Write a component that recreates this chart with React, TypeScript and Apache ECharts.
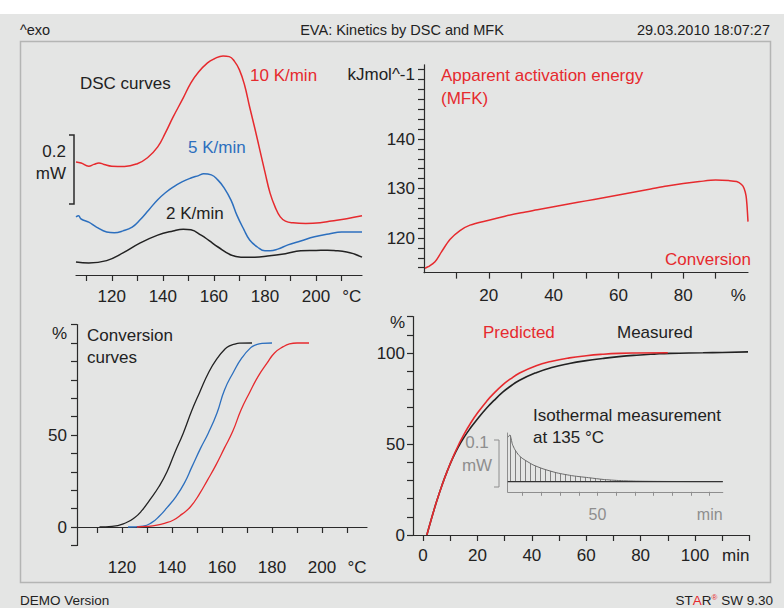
import React, { useEffect, useRef } from 'react';
import * as echarts from 'echarts';

// ---------- DSC curves: temperature (°C) vs heat flow (mW, exo up, curves offset as drawn) ----------
const dsc10K = [[106,0.323],[108,0.320],[111,0.311],[113,0.316],[115,0.320],[117,0.316],[120,0.311],[125,0.310],[130,0.318],[134,0.335],[138,0.366],[141,0.406],[144,0.451],[148,0.506],[151,0.549],[154,0.580],[157.5,0.606],[160,0.617],[163.6,0.626],[166,0.624],[168,0.611],[170,0.586],[172,0.543],[174,0.480],[176,0.420],[178,0.357],[180,0.294],[182,0.234],[184,0.194],[186,0.166],[188,0.154],[191,0.149],[196,0.147],[201.6,0.149],[206,0.154],[212,0.161],[218,0.169]];
const dsc5K = [[106,0.166],[107,0.169],[108,0.160],[111,0.151],[114,0.137],[118,0.123],[121,0.121],[124.4,0.126],[128,0.137],[131,0.157],[134.5,0.186],[138,0.215],[141,0.235],[144,0.251],[147.5,0.266],[151,0.277],[154,0.284],[156,0.289],[159,0.286],[161.6,0.271],[164,0.249],[166.7,0.214],[169,0.171],[171.8,0.129],[174,0.100],[177,0.080],[180,0.069],[182,0.069],[185,0.074],[189,0.086],[194,0.097],[199.4,0.109],[205,0.117],[210,0.123],[218,0.123]];
const dsc2K = [[106,0.037],[111,0.034],[118,0.041],[124.4,0.063],[131,0.091],[138,0.114],[144,0.126],[148,0.131],[151,0.129],[155,0.114],[158,0.099],[161.6,0.080],[166.7,0.057],[170.6,0.051],[176,0.051],[181,0.054],[188,0.061],[194,0.069],[200,0.070],[204.5,0.071],[207,0.070],[212,0.066],[215,0.060],[218,0.051]];
const dscTicks = [110,120,130,140,150,160,170,180,190,200,210];
const dscLabels = [120,140,160,180,200,214];

// ---------- Apparent activation energy (MFK): conversion (%) vs kJ/mol ----------
const eaMFK = [[0.3,113.9],[1.3,114.2],[3.4,115.2],[5.4,117.2],[8,119.7],[11.1,121.5],[14.2,122.6],[20,123.6],[25,124.4],[30,125.1],[35,125.7],[40,126.3],[45,126.9],[50,127.5],[55,128.1],[60,128.7],[65,129.3],[70,129.9],[75,130.5],[80,131.0],[85,131.4],[90,131.7],[94,131.6],[96.5,131.4],[98,130.8],[98.8,130],[99.4,128.5],[99.7,126.5],[100,123.3]];
const eaXTicks = [10,20,30,40,50,60,70,80,90];
const eaXLabels = [20,40,60,80,97];
const eaYTicks = [114,116,118,120,122,124,126,128,130,132,134,136,138,140,142,144,146,148,150,152,154];
const eaYLabels = [120,130,140,153];

// ---------- Conversion curves: temperature (°C) vs conversion (%) ----------
const conv2K = [[111,0],[116,0.3],[121.6,2.3],[125,5],[128,9],[131,14.5],[134.8,22],[138,30],[141,40],[144.5,51],[148,63.6],[151,73],[154.8,84.4],[158,91.5],[161.2,96.7],[163,98.4],[165,99.4],[167,99.9],[172,100]];
const conv5K = [[122.4,0],[128.4,0.5],[132,2.5],[135,6],[138,10.5],[141.6,16.5],[145,24],[148,32.8],[151.5,43],[154.5,51],[158,62],[161,74.5],[164.5,84],[168,92],[171.5,97.5],[173.5,99],[176,99.8],[180,100]];
const conv10K = [[126,0],[130,0.3],[134,1],[137,2],[140.6,3.8],[144,7],[147.4,11],[151,18],[154.2,25.5],[157.5,33.5],[161,43],[164.3,52],[167.6,63.6],[171,73],[174.4,81.7],[178,89],[181,94.6],[184.5,98],[187,99.5],[190,100],[194.8,100]];
const convXTicks = [110,120,130,140,150,160,170,180,190,200,210];
const convXLabels = [120,140,160,180,200,214];
const convYTicks = [-10,0,10,20,30,40,50,60,70,80,90,100,110];
const convYLabels = [0,50,105];

// ---------- Isothermal at 135 °C: time (min) vs conversion (%) ----------
const predicted = [[1.4,0],[3,8.5],[5,18.5],[7,27.5],[9,35.5],[11,42.8],[13.2,50],[15,55.2],[17.3,61],[20,67],[23.4,73.5],[26,77.8],[29.4,82.6],[32,85.6],[35.5,89],[41.6,93],[47,95.3],[53.8,97.3],[60,98.5],[66,99.3],[72,99.8],[78.5,100],[90,100.1]];
const measured = [[1.4,0],[3,8.5],[5,18.5],[7,27.5],[9,35.5],[11,42.5],[13.2,49],[15,53.5],[17.3,58.5],[20,63.8],[23.4,69.8],[26,73.8],[29.4,78.6],[32,81.6],[35.5,85],[41.6,89.2],[47,91.9],[53.8,94.2],[60,95.8],[66,97],[72,98],[78.5,98.8],[85,99.4],[90.7,99.8],[102.9,100.1],[110,100.3],[119.5,100.6]];
const isoXTicks = [0,10,20,30,40,50,60,70,80,90,100,110,120];
const isoXLabels = [0,20,40,60,80,100,115];
const isoYTicks = [0,10,20,30,40,50,60,70,80,90,100,110,120];
const isoYLabels = [0,50,100,117];

// ---------- Inset: isothermal DSC signal, time (min) vs heat flow (mW above baseline) ----------
const insetSignal = [[2.2,0.095],[3.2,0.1],[4.5,0.08],[5.9,0.068],[8,0.056],[10.2,0.0486],[15.5,0.0358],[20.9,0.0272],[28.3,0.0186],[36.9,0.0122],[46,0.0079],[53,0.0045],[62,0.002],[71,0.0008],[85,0.0002],[100,0],[117,0]];
const insetBaseline = [[2,0],[117,0]];
const insetPeak = [[3,0.111]];
const insetTicks = [10,20,30,40,50,60,70,80,90,100,110];
const insetLabels = [50,110];

const FONT = "'Liberation Sans', Arial, Helvetica, sans-serif";
const RED = '#e62a2e';
const BLUE = '#2c6fbe';
const BLACK = '#222222';
const AX = '#2a2a2a';
const GREY = '#8e8e8e';
const BG = '#e4e5e4';

const hatch = 'data:image/svg+xml;charset=utf-8,' + encodeURIComponent(
  '<svg xmlns="http://www.w3.org/2000/svg" width="5" height="4"><rect x="0" y="0" width="1" height="4" fill="#808080"/></svg>'
);

function txt(text: string, x: number, y: number, fill = BLACK, size = 17, align = 'left') {
  return {
    type: 'text', x, y, silent: true,
    style: { text, fill, fontSize: size, fontFamily: FONT, align, verticalAlign: 'middle', textAlign: align, textVerticalAlign: 'middle' },
  };
}

function xAx(grid: number, min: number, max: number, ticks: number[], labels: number[], unitAt: number, unit: string, margin: number, extra: any = {}) {
  return {
    type: 'value', gridIndex: grid, min, max, position: 'bottom',
    axisLine: { show: true, lineStyle: { color: AX, width: 1.2 } },
    axisTick: { show: true, customValues: ticks, length: 6, lineStyle: { color: AX, width: 1.2 } },
    axisLabel: {
      customValues: labels, margin, color: BLACK, fontSize: 17, fontFamily: FONT,
      formatter: (v: number) => (v === unitAt ? unit : String(v)),
    },
    splitLine: { show: false },
    ...extra,
  };
}

function yAx(grid: number, min: number, max: number, ticks: number[], labels: number[], unitAt: number, unit: string, margin: number, extra: any = {}) {
  return {
    type: 'value', gridIndex: grid, min, max, position: 'left',
    axisLine: { show: true, onZero: false, lineStyle: { color: AX, width: 1.2 } },
    axisTick: { show: true, customValues: ticks, length: 6, lineStyle: { color: AX, width: 1.2 } },
    axisLabel: {
      customValues: labels, margin, color: BLACK, fontSize: 17, fontFamily: FONT,
      formatter: (v: number) => (v === unitAt ? unit : String(v)),
    },
    splitLine: { show: false },
    ...extra,
  };
}

function line(data: number[][], color: string, xi: number, width = 1.5, extra: any = {}) {
  return {
    type: 'line', data, xAxisIndex: xi, yAxisIndex: xi, showSymbol: false, symbol: 'none',
    smooth: 0.45, lineStyle: { color, width }, silent: true, ...extra,
  };
}

export default function App() {
  const ref = useRef<HTMLDivElement>(null);
  useEffect(() => {
    if (!ref.current) return;
    const chart = echarts.init(ref.current, undefined, { renderer: 'svg' });
    chart.setOption({
      animation: false,
      backgroundColor: BG,
      grid: [
        { left: 76, top: 47.5, width: 286, height: 227.5 },
        { left: 424, top: 64.75, width: 324, height: 207.9 },
        { left: 77, top: 324.6, width: 290, height: 220.8 },
        { left: 413, top: 316.6, width: 336.4, height: 218.4 },
        { left: 507.7, top: 433, width: 215.1, height: 58.8 },
      ],
      xAxis: [
        xAx(0, 106, 218, dscTicks, dscLabels, 214, '°C', 13),
        xAx(1, 0, 100, eaXTicks, eaXLabels, 97, '%', 14),
        xAx(2, 102, 218, convXTicks, convXLabels, 214, '°C', 14),
        xAx(3, -3.7, 120, isoXTicks, isoXLabels, 115, 'min', 12),
        xAx(4, 2, 117, insetTicks, insetLabels, 110, 'min', 15, {
          axisLine: { show: true, onZero: false, lineStyle: { color: GREY, width: 1 } },
          axisTick: { show: true, customValues: insetTicks, length: 4, lineStyle: { color: GREY } },
          axisLabel: {
            customValues: insetLabels, margin: 15, color: GREY, fontSize: 16, fontFamily: FONT,
            formatter: (v: number) => (v === 110 ? 'min' : String(v)),
          },
        }),
      ],
      yAxis: [
        { type: 'value', gridIndex: 0, min: 0, max: 0.65, show: false },
        yAx(1, 113, 155, eaYTicks, eaYLabels, 153, 'kJmol^-1', 9),
        yAx(2, -10, 110, convYTicks, convYLabels, 105, '%', 10),
        yAx(3, 0, 120, isoYTicks, isoYLabels, 117, '%', 8),
        {
          type: 'value', gridIndex: 4, min: -0.022, max: 0.104, position: 'left',
          axisLine: { show: true, onZero: false, lineStyle: { color: GREY, width: 1 } },
          axisTick: { show: false }, axisLabel: { show: false }, splitLine: { show: false },
        },
      ],
      series: [
        line(dsc10K, RED, 0),
        line(dsc5K, BLUE, 0),
        line(dsc2K, BLACK, 0),
        line(eaMFK, RED, 1, 1.5, { smooth: 0.3 }),
        line(conv2K, BLACK, 2, 1.3, { smooth: 0.5 }),
        line(conv5K, BLUE, 2, 1.3, { smooth: 0.5 }),
        line(conv10K, RED, 2, 1.3, { smooth: 0.5 }),
        line(measured, BLACK, 3, 1.6, { smooth: 0.5 }),
        line(predicted, RED, 3, 1.6, { smooth: 0.5 }),
        line(insetSignal, '#6a6a6a', 4, 1, {
          smooth: 0.2,
          areaStyle: { color: { image: hatch, repeat: 'repeat', imageWidth: 5, imageHeight: 4 }, opacity: 1 },
        }),
        line(insetBaseline, '#333333', 4, 1.2, { smooth: false }),
        {
          type: 'scatter', xAxisIndex: 4, yAxisIndex: 4, data: insetPeak, silent: true,
          symbol: 'path://M0,0L10,10M10,0L0,10', symbolSize: 7,
          itemStyle: { color: 'none', borderColor: '#555', borderWidth: 1 },
        },
      ],
      graphic: [
        { type: 'rect', silent: true, shape: { x: 0, y: 0, width: 784, height: 14 }, style: { fill: '#ffffff' } },
        { type: 'rect', silent: true, shape: { x: 20.5, y: 41.5, width: 750, height: 541 }, style: { fill: 'none', stroke: '#b4b5b4', lineWidth: 1.5 } },
        txt('^exo', 20, 30, BLACK, 14.5),
        txt('EVA: Kinetics by DSC and MFK', 402, 30, BLACK, 14.5, 'center'),
        txt('29.03.2010 18:07:27', 770, 30, BLACK, 14.5, 'right'),
        txt('DEMO Version', 20, 600, BLACK, 13.5),
        {
          type: 'text', x: 773, y: 600, silent: true,
          style: {
            text: '{a|ST}{r|A}{a|R}{s|®}{a| SW 9.30}', align: 'right', verticalAlign: 'middle', textAlign: 'right', textVerticalAlign: 'middle',
            rich: {
              a: { fill: BLACK, fontSize: 13.5, fontFamily: FONT },
              r: { fill: RED, fontSize: 13.5, fontFamily: FONT },
              s: { fill: RED, fontSize: 8, fontFamily: FONT, verticalAlign: 'top' },
            },
          },
        },
        // DSC panel
        txt('DSC curves', 80, 83),
        txt('10 K/min', 250, 75, RED),
        txt('5 K/min', 188, 147, BLUE),
        txt('2 K/min', 166, 213),
        txt('0.2', 66, 151, BLACK, 17, 'right'),
        txt('mW', 66, 173, BLACK, 17, 'right'),
        { type: 'polyline', silent: true, shape: { points: [[69, 135], [74, 135], [74, 204], [69, 204]] }, style: { fill: 'none', stroke: AX, lineWidth: 1.5 } },
        // Activation energy panel
        txt('Apparent activation energy', 441, 75, RED),
        txt('(MFK)', 441, 98, RED),
        txt('Conversion', 751, 259, RED, 17, 'right'),
        // Conversion panel
        txt('Conversion', 87, 335),
        txt('curves', 87, 357),
        // Isothermal panel
        txt('Predicted', 483, 332, RED),
        txt('Measured', 617, 332),
        txt('Isothermal measurement', 533, 415),
        txt('at 135 °C', 533, 437),
        txt('0.1', 477, 442, GREY, 17, 'center'),
        txt('mW', 477, 465, GREY, 17, 'center'),
        { type: 'polyline', silent: true, shape: { points: [[494, 440], [499, 440], [499, 487], [494, 487]] }, style: { fill: 'none', stroke: GREY, lineWidth: 1 } },
      ],
    });
    return () => chart.dispose();
  }, []);
  return <div ref={ref} style={{ position: 'absolute', left: 0, top: 0, width: 784, height: 608 }} />;
}
